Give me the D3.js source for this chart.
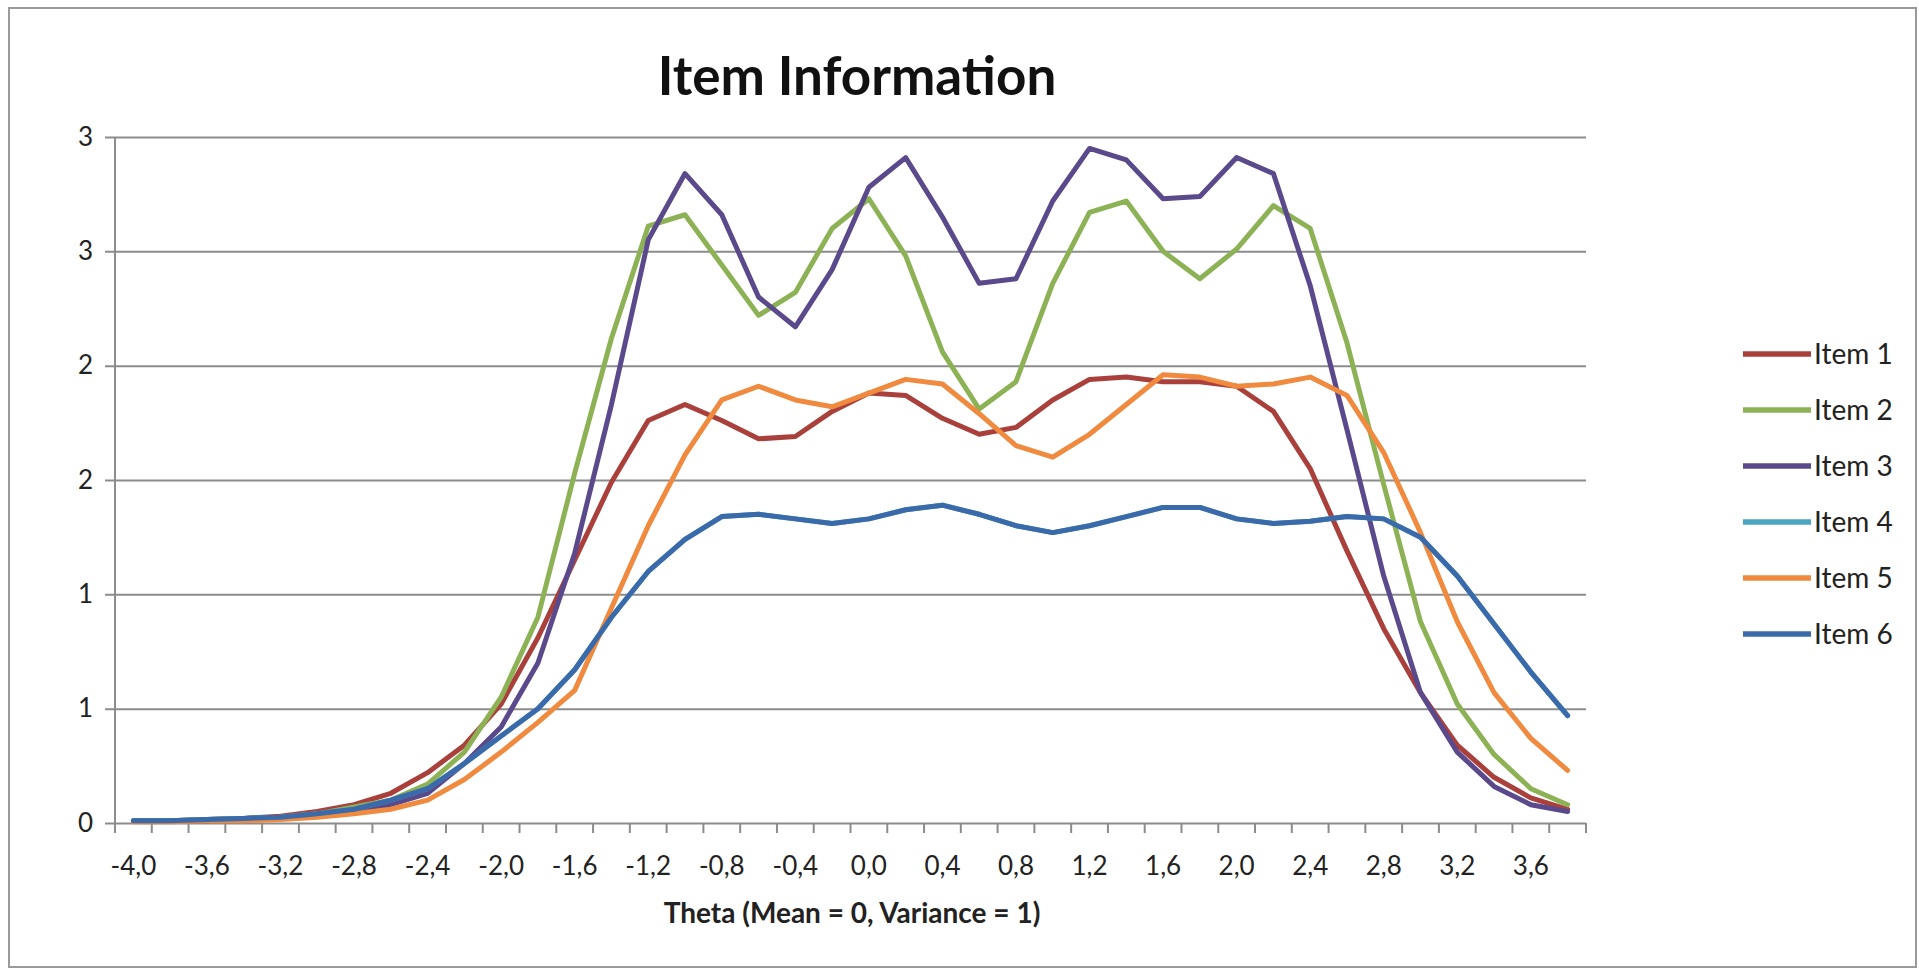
<!DOCTYPE html>
<html>
<head>
<meta charset="utf-8">
<script src="https://cdn.jsdelivr.net/npm/d3@7"></script>
<style>
  html, body { margin: 0; padding: 0; background: #fff; }
  svg { display: block; font-family: Lato, "Open Sans", sans-serif; }
  .grid line { stroke: #8c8c8c; stroke-width: 2; }
  .axis path, .axis line { stroke: #8c8c8c; stroke-width: 2; }
  .tick-label { fill: #222; font-size: 26px; }
  .legend-label { fill: #222; font-size: 28px; }
</style>
</head>
<body>
<div id="chart"></div>
<script>
// theta categories (Excel category axis)
const theta = [-4.0, -3.8, -3.6, -3.4, -3.2, -3.0, -2.8, -2.6, -2.4, -2.2,
               -2.0, -1.8, -1.6, -1.4, -1.2, -1.0, -0.8, -0.6, -0.4, -0.2,
                0.0,  0.2,  0.4,  0.6,  0.8,  1.0,  1.2,  1.4,  1.6,  1.8,
                2.0,  2.2,  2.4,  2.6,  2.8,  3.0,  3.2,  3.4,  3.6,  3.8];

const item1 = [0.01, 0.01, 0.015, 0.02, 0.03, 0.05, 0.08, 0.13, 0.22, 0.34,
               0.52, 0.81, 1.15, 1.49, 1.76, 1.83, 1.76, 1.68, 1.69, 1.80,
               1.88, 1.87, 1.77, 1.70, 1.73, 1.85, 1.94, 1.95, 1.93, 1.93,
               1.91, 1.80, 1.55, 1.19, 0.85, 0.57, 0.34, 0.20, 0.11, 0.06];
const item2 = [0.01, 0.01, 0.015, 0.02, 0.025, 0.04, 0.07, 0.10, 0.17, 0.31,
               0.55, 0.90, 1.53, 2.12, 2.61, 2.66, 2.44, 2.22, 2.32, 2.60,
               2.73, 2.48, 2.06, 1.81, 1.93, 2.36, 2.67, 2.72, 2.50, 2.38,
               2.51, 2.70, 2.60, 2.10, 1.48, 0.88, 0.52, 0.30, 0.15, 0.08];
const item3 = [0.01, 0.01, 0.01, 0.02, 0.025, 0.035, 0.05, 0.08, 0.13, 0.26,
               0.42, 0.70, 1.18, 1.83, 2.55, 2.84, 2.66, 2.30, 2.17, 2.42,
               2.78, 2.91, 2.65, 2.36, 2.38, 2.72, 2.95, 2.90, 2.73, 2.74,
               2.91, 2.84, 2.35, 1.72, 1.08, 0.57, 0.31, 0.16, 0.08, 0.05];
// item 4 runs underneath item 6 in the picture
const item4 = [0.01, 0.01, 0.015, 0.02, 0.025, 0.04, 0.06, 0.10, 0.15, 0.26,
               0.38, 0.50, 0.67, 0.90, 1.10, 1.24, 1.34, 1.35, 1.33, 1.31,
               1.33, 1.37, 1.39, 1.35, 1.30, 1.27, 1.30, 1.34, 1.38, 1.38,
               1.33, 1.31, 1.32, 1.34, 1.33, 1.25, 1.08, 0.87, 0.66, 0.47];
const item5 = [0.005, 0.005, 0.01, 0.01, 0.015, 0.025, 0.04, 0.06, 0.10, 0.19,
               0.31, 0.44, 0.58, 0.94, 1.30, 1.61, 1.85, 1.91, 1.85, 1.82,
               1.88, 1.94, 1.92, 1.79, 1.65, 1.60, 1.70, 1.83, 1.96, 1.95,
               1.91, 1.92, 1.95, 1.87, 1.62, 1.27, 0.88, 0.57, 0.37, 0.23];
const item6 = [0.01, 0.01, 0.015, 0.02, 0.025, 0.04, 0.06, 0.10, 0.15, 0.26,
               0.38, 0.50, 0.67, 0.90, 1.10, 1.24, 1.34, 1.35, 1.33, 1.31,
               1.33, 1.37, 1.39, 1.35, 1.30, 1.27, 1.30, 1.34, 1.38, 1.38,
               1.33, 1.31, 1.32, 1.34, 1.33, 1.25, 1.08, 0.87, 0.66, 0.47];

const seriesNames = ['Item 1', 'Item 2', 'Item 3', 'Item 4', 'Item 5', 'Item 6'];
const seriesValues = [item1, item2, item3, item4, item5, item6];
const seriesColors = ['#a9403c', '#8db255', '#5a498b', '#4aa6c0', '#ef8a3f', '#3b6aab'];

const yTicks = [0, 0.5, 1, 1.5, 2, 2.5, 3];

const width = 1919;
const height = 972;
const plot = { left: 115, right: 1586, top: 137, bottom: 823 };

const svg = d3.select('#chart')
    .append('svg')
    .attr('width', width)
    .attr('height', height);

// chart frame
svg.append('rect')
    .attr('x', 9).attr('y', 8)
    .attr('width', 1907).attr('height', 959)
    .attr('fill', '#fff')
    .attr('stroke', '#9a9a9a')
    .attr('stroke-width', 2);

const x = d3.scaleBand()
    .domain(theta.map((d, i) => i))
    .range([plot.left, plot.right])
    .padding(0);

const y = d3.scaleLinear()
    .domain([0, 3])
    .range([plot.bottom, plot.top]);

const cx = (i) => x(i) + x.bandwidth() / 2;

// horizontal gridlines + y axis labels
const yAxis = svg.append('g')
    .attr('class', 'grid')
    .attr('transform', `translate(${plot.left},0)`)
    .call(d3.axisLeft(y)
        .tickValues(yTicks)
        .tickSizeInner(-(plot.right - plot.left))
        .tickSizeOuter(0)
        .tickPadding(22)
        .tickFormat((d) => Math.round(d)));
yAxis.select('.domain').remove();
yAxis.selectAll('.tick line').attr('x1', -10);
yAxis.selectAll('.tick text')
    .attr('class', 'tick-label')
    .style('font-family', 'Lato, sans-serif');

// y axis line
svg.append('line')
    .attr('class', 'axis-line')
    .attr('x1', plot.left).attr('x2', plot.left)
    .attr('y1', plot.top).attr('y2', plot.bottom)
    .attr('stroke', '#8c8c8c').attr('stroke-width', 2);

// x axis: tick marks sit between categories
const xAxis = svg.append('g').attr('class', 'axis');
const boundaries = theta.map((d, i) => x(i)).concat([plot.right]);
xAxis.selectAll('.xtick')
    .data(boundaries)
    .enter()
    .append('line')
    .attr('class', 'xtick')
    .attr('x1', (d) => d).attr('x2', (d) => d)
    .attr('y1', plot.bottom).attr('y2', plot.bottom + 10);

xAxis.selectAll('.xlabel')
    .data(theta.filter((d, i) => i % 2 === 0))
    .enter()
    .append('text')
    .attr('class', 'tick-label')
    .attr('x', (d) => cx(theta.indexOf(d)))
    .attr('y', plot.bottom + 52)
    .attr('text-anchor', 'middle')
    .text((d) => d.toFixed(1).replace('.', ','));

// series lines
const line = d3.line()
    .x((d, i) => cx(i))
    .y((d) => y(d));

svg.append('g')
    .selectAll('.series')
    .data(seriesValues)
    .enter()
    .append('path')
    .attr('class', 'series')
    .attr('d', (d) => line(d))
    .attr('fill', 'none')
    .attr('stroke', (d, i) => seriesColors[i])
    .attr('stroke-width', 5)
    .attr('stroke-linejoin', 'round')
    .attr('stroke-linecap', 'round');

// title
svg.append('text')
    .attr('x', 857)
    .attr('y', 95)
    .attr('text-anchor', 'middle')
    .style('font-weight', 700)
    .style('font-size', '53px')
    .attr('fill', '#111')
    .text('Item Information');

// x axis title
svg.append('text')
    .attr('x', 852)
    .attr('y', 923)
    .attr('text-anchor', 'middle')
    .style('font-weight', 700)
    .style('font-size', '28px')
    .attr('fill', '#222')
    .text('Theta (Mean = 0, Variance = 1)');

// legend
const legend = svg.append('g')
    .attr('class', 'legend')
    .selectAll('.legend-item')
    .data(seriesNames)
    .enter()
    .append('g')
    .attr('class', 'legend-item')
    .attr('transform', (d, i) => `translate(1743, ${354 + i * 56})`);

legend.append('line')
    .attr('x1', 0).attr('x2', 68)
    .attr('stroke', (d, i) => seriesColors[i])
    .attr('stroke-width', 5.5);

legend.append('text')
    .attr('class', 'legend-label')
    .attr('x', 71)
    .attr('dy', '0.35em')
    .text((d) => d);
</script>
</body>
</html>
